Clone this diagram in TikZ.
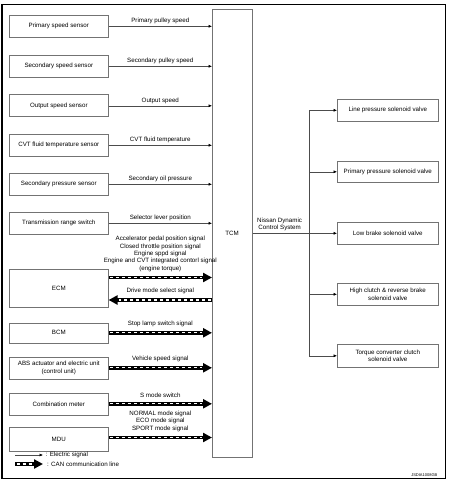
\documentclass[tikz,border=0pt]{standalone}
\usepackage{fontspec}
\setmainfont{Liberation Sans}
\usetikzlibrary{arrows.meta}
\begin{document}
\begin{tikzpicture}[x=1pt,y=-1pt,
  every node/.style={font=\fontsize{6.2}{7.3}\selectfont, inner sep=0.5pt},
  lbox/.style={draw=black!55, line width=0.6pt, minimum width=99pt, minimum height=22pt, anchor=north west, align=center},
  rbox/.style={draw=black!55, line width=0.6pt, minimum width=101pt, minimum height=22pt, anchor=north west, align=center},
  el/.style={draw=black!70, line width=0.5pt, -{Latex[length=3.5pt,width=3pt,black]}},
  can/.style={draw=black, line width=3.4pt, -{Triangle[length=9pt,width=9pt]},
    postaction={draw=white, line width=1.2pt, dash pattern=on 3pt off 3pt, shorten >=10pt, shorten <=1.5pt, -}},
  lab/.style={above=1.5pt, midway, align=center}
]
\useasboundingbox (0,0) rectangle (450,481);
\draw[line width=1.2pt] (2,4.5) rectangle (445.5,478.5);

% TCM
\node[draw=black!55, line width=0.6pt, minimum width=40pt, minimum height=447.5pt, anchor=north west] (tcm) at (212,9.5) {};
\node (tcmlab) at (232,233) {TCM};

% left boxes
\node[lbox] (ps) at (9,15) {Primary speed sensor};
\node[lbox] (ss) at (9,55) {Secondary speed sensor};
\node[lbox] (os) at (9,94.5) {Output speed sensor};
\node[lbox] (cvt) at (9,134) {CVT fluid temperature sensor};
\node[lbox] (sp) at (9,173) {Secondary pressure sensor};
\node[lbox] (tr) at (9,212) {Transmission range switch};
\node[lbox, minimum height=38pt] (ecm) at (9,269) {ECM};
\node[lbox, minimum height=20pt] (bcm) at (9,322.5) {BCM};
\node[lbox] (abs) at (9,356.5) {ABS actuator and electric unit\\(control unit)};
\node[lbox] (cm) at (9,392.5) {Combination meter};
\node[lbox, minimum height=23.5pt] (mdu) at (9,427) {MDU};

% electric inputs
\draw[el] (ps.east) -- (tcm.west |- ps.east) node[lab] {Primary pulley speed};
\draw[el] (ss.east) -- (tcm.west |- ss.east) node[lab] {Secondary pulley speed};
\draw[el] (os.east) -- (tcm.west |- os.east) node[lab] {Output speed};
\draw[el] (cvt.east) -- (tcm.west |- cvt.east) node[lab] {CVT fluid temperature};
\draw[el] (sp.east) -- (tcm.west |- sp.east) node[lab] {Secondary oil pressure};
\draw[el] (tr.east) -- (tcm.west |- tr.east) node[lab] {Selector lever position};

% CAN
\coordinate (ecm1) at (ecm.east |- 0,277.5);
\coordinate (ecm2) at (ecm.east |- 0,300);
\draw[can] (ecm1) -- (tcm.west |- ecm1) node[lab, above=2.5pt] {Accelerator pedal position signal\\Closed throttle position signal\\Engine sppd signal\\Engine and CVT integrated contorl signal\\(engine torque)};
\draw[can] (tcm.west |- ecm2) -- (ecm2) node[lab, above=2.5pt] {Drive mode select signal};
\draw[can] (bcm.east) -- (tcm.west |- bcm.east) node[lab, above=2.5pt] {Stop lamp switch signal};
\draw[can] (abs.east) -- (tcm.west |- abs.east) node[lab, above=2.5pt] {Vehicle speed signal};
\draw[can] (cm.east) -- (tcm.west |- cm.east) node[lab, above=2.5pt] {S mode switch};
\coordinate (mdu1) at (mdu.east |- 0,437.5);
\draw[can] (mdu1) -- (tcm.west |- mdu1) node[lab, above=2.5pt] {NORMAL mode signal\\ECO mode signal\\SPORT mode signal};

% right boxes
\node[rbox] (lp) at (337,99) {Line pressure solenoid valve};
\node[rbox, minimum height=21pt] (pp) at (337,161) {Primary pressure solenoid valve};
\node[rbox] (lb) at (337,222) {Low brake solenoid valve};
\node[rbox] (hc) at (337,283) {High clutch \& reverse brake\\solenoid valve};
\node[rbox, minimum height=23pt] (tc) at (337,344) {Torque converter clutch\\solenoid valve};

\coordinate (bus1) at (309,0 |- lp.west);
\coordinate (bus5) at (309,0 |- tc.west);
\draw[black!70, line width=0.5pt] (bus1) -- (bus5);
\draw[el] (tcm.east |- lb.west) -- (lb.west) node[pos=0.32, above=1.5pt, align=center] {Nissan Dynamic\\Control System};
\draw[el] (bus1) -- (lp.west);
\draw[el] (309,0 |- pp.west) -- (pp.west);
\draw[el] (309,0 |- hc.west) -- (hc.west);
\draw[el] (bus5) -- (tc.west);

% legend
\coordinate (l1a) at (15,455);
\coordinate (l1b) at (43,455);
\draw[el] (l1a) -- (l1b) node[right=2pt] {: Electric signal};
\coordinate (l2a) at (15,464);
\coordinate (l2b) at (43,464);
\draw[can] (l2a) -- (l2b) node[right=2pt] {: CAN communication line};

\node[font=\fontsize{4}{5}\selectfont, anchor=east] (code) at (438,475) {JSDIA1008GB};
\end{tikzpicture}
\end{document}
